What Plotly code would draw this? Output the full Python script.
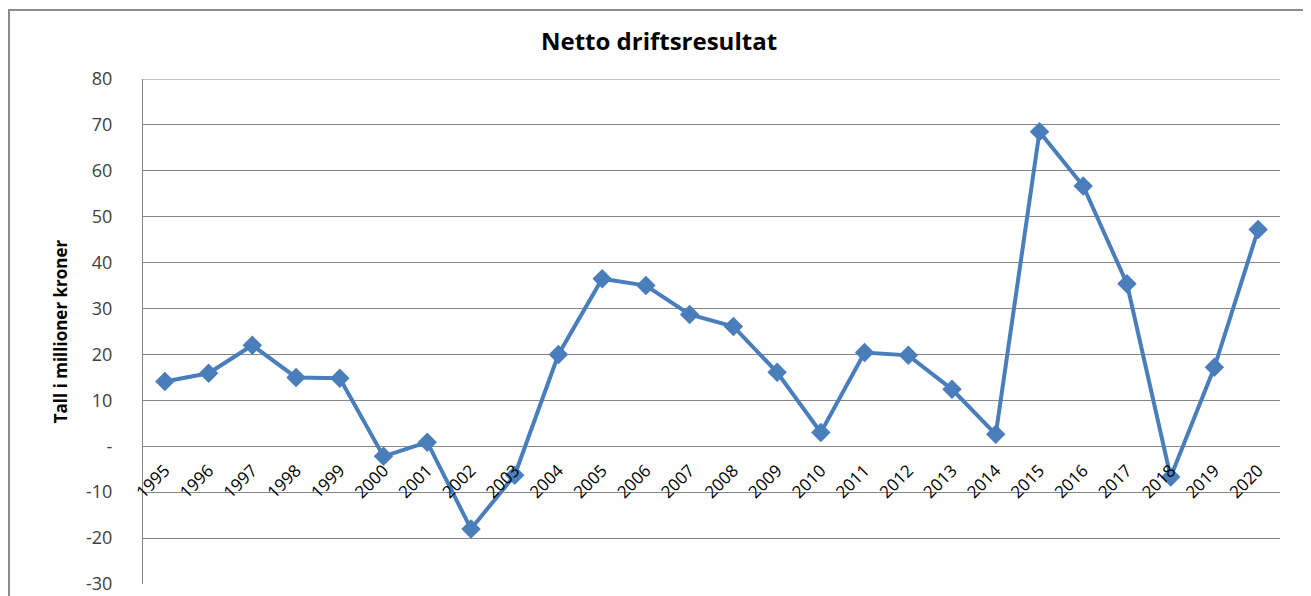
#!/usr/bin/env python3
"""Netto driftsresultat, 1995-2020 (line chart with diamond markers)."""

import plotly.graph_objects as go

# Data (millions NOK)
years = [str(y) for y in range(1995, 2021)]
netto = [14.1, 15.9, 22.0, 15.0, 14.8, -2.2, 0.9, -18.0, -6.3, 20.0,
         36.5, 35.0, 28.7, 26.1, 16.1, 3.0, 20.4, 19.8, 12.4, 2.6,
         68.5, 56.7, 35.4, -6.7, 17.2, 47.2]

y_ticks = [-30, -20, -10, 0, 10, 20, 30, 40, 50, 60, 70, 80]
y_ticktext = ["-30", "-20", "-10", "-", "10", "20", "30", "40", "50", "60", "70", "80"]

line_color = "#4A7EBB"
grid_color = "#868686"
text_color = "#404040"
font_family = "Open Sans, Liberation Sans, sans-serif"

# the page body keeps its default 8px margin, so work in shifted coords
PAD = 8
W, H = 1311 - PAD, 596 - PAD
left, right, top, bottom = 143 - PAD, 31, 79 - PAD, 12
plot_w = W - left - right
plot_h = H - top - bottom

fig = go.Figure()
fig.add_trace(go.Scatter(
    x=years,
    y=netto,
    mode="lines+markers",
    line=dict(color=line_color, width=4),
    marker=dict(symbol="diamond", size=15, color=line_color),
    showlegend=False,
    cliponaxis=False,
))

y_min, y_max = -30, 80
zero_pos = (0 - y_min) / (y_max - y_min)

fig.update_layout(
    width=W,
    height=H,
    margin=dict(l=left, r=right, t=top, b=bottom, autoexpand=False),
    paper_bgcolor="white",
    plot_bgcolor="white",
    font=dict(family=font_family, color=text_color),
    title=dict(
        text="<b>Netto driftsresultat</b>",
        x=(659 - PAD) / W,
        xanchor="center",
        y=1 - (42 - PAD) / H,
        yanchor="middle",
        font=dict(size=24, color="black", family=font_family),
    ),
    xaxis=dict(
        type="category",
        range=[-0.5, len(years) - 0.5],
        anchor="free",
        position=zero_pos,
        automargin=False,
        showgrid=False,
        showline=False,
        zeroline=False,
        ticks="",
        tickangle=-45,
        ticklabelstandoff=10,
        tickfont=dict(size=17, color="black"),
    ),
    yaxis=dict(
        range=[y_min, y_max],
        automargin=False,
        tickvals=y_ticks,
        ticktext=y_ticktext,
        showgrid=True,
        gridcolor=grid_color,
        gridwidth=1,
        zeroline=False,
        showline=True,
        linecolor=grid_color,
        linewidth=1,
        ticks="",
        ticklabelstandoff=26,
        tickfont=dict(size=18, color=text_color),
        title=dict(
            text="<b>Tall i millioner kroner</b>",
            standoff=14,
            font=dict(size=17, color="black",
                      family="Liberation Sans Narrow, Arial Narrow, Open Sans, sans-serif"),
        ),
    ),
)

# top gridline (80) sits on the plot edge, plotly drops it
fig.add_shape(
    type="line", xref="paper", yref="y",
    x0=0, x1=1, y0=y_max, y1=y_max,
    line=dict(color=grid_color, width=1),
    layer="below",
)

# outer chart-area border (bottom runs off the picture)
fig.add_shape(
    type="rect",
    xref="paper", yref="paper",
    x0=(9 - 143) / plot_w, x1=(1306 - 143) / plot_w,
    y0=-0.2, y1=(584 - 10) / plot_h,
    line=dict(color="#8C8C8C", width=2),
    fillcolor="rgba(0,0,0,0)",
    layer="below",
)

fig.write_html("out.html")
